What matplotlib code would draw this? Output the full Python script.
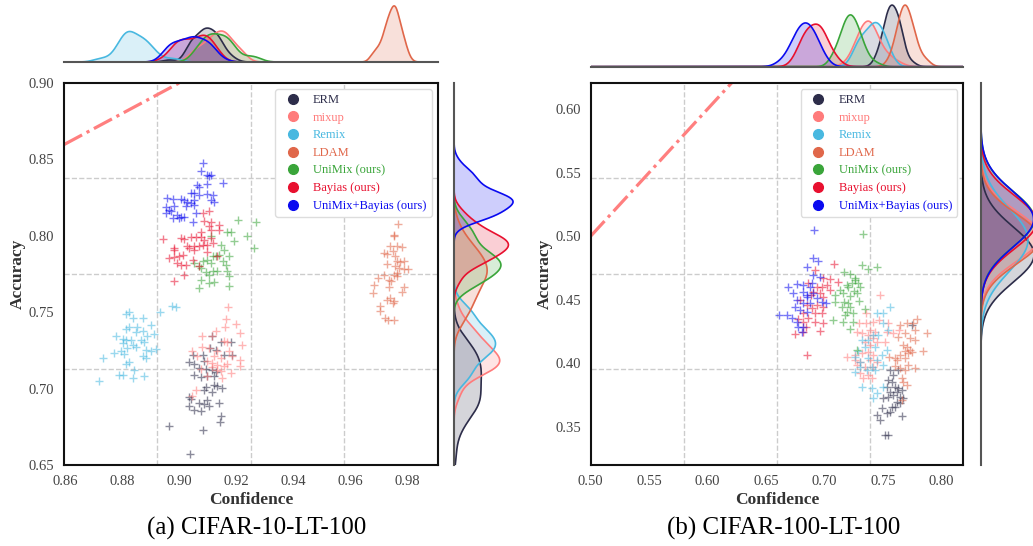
import numpy as np
import matplotlib.pyplot as plt
from matplotlib.ticker import FixedLocator, FormatStrFormatter
from matplotlib.lines import Line2D

plt.rcParams['font.family'] = ['Liberation Serif', 'DejaVu Serif']

methods = ['ERM', 'mixup', 'Remix', 'LDAM', 'UniMix (ours)', 'Bayias (ours)', 'UniMix+Bayias (ours)']
colors = ['#2d2d4a', '#ff7b7b', '#48b8e0', '#e0674a', '#3aa53a', '#e8102f', '#0a0af0']

# ---- (a) CIFAR-10-LT-100 : confidence / accuracy per run ----
erm_a_conf = [0.9116, 0.9145, 0.9180, 0.9108, 0.9128, 0.9050, 0.9085, 0.9157, 0.9186, 0.9035,
              0.9052, 0.9087, 0.9070, 0.9093, 0.9116, 0.9128, 0.9052, 0.9076, 0.9099, 0.9122,
              0.9093, 0.9122, 0.9134, 0.9151, 0.9087, 0.9116, 0.9035, 0.9041, 0.9070, 0.9087,
              0.9105, 0.9140, 0.9035, 0.9052, 0.9076, 0.9145, 0.9143, 0.8965, 0.9085, 0.9038, 0.9099]
erm_a_acc = [0.7342, 0.7303, 0.7303, 0.7266, 0.7255, 0.7222, 0.7222, 0.7222, 0.7222, 0.7172,
             0.7163, 0.7179, 0.7135, 0.7128, 0.7120, 0.7107, 0.7091, 0.7076, 0.7081, 0.7085,
             0.7011, 0.7026, 0.7020, 0.7004, 0.6993, 0.6976, 0.6945, 0.6932, 0.6906, 0.6902,
             0.6889, 0.6906, 0.6884, 0.6858, 0.6852, 0.6823, 0.6780, 0.6754, 0.6732, 0.6575, 0.6928]

mixup_a_conf = [0.9171, 0.9163, 0.9201, 0.9159, 0.9128, 0.9215, 0.9081, 0.9116, 0.9157, 0.9169,
                0.9221, 0.9081, 0.9105, 0.9134, 0.9175, 0.9046, 0.9064, 0.9122, 0.9145, 0.9186,
                0.9215, 0.9099, 0.9116, 0.9134, 0.9157, 0.9215, 0.9134, 0.9145, 0.9116, 0.9180,
                0.9151, 0.9099, 0.9058, 0.9046, 0.9076, 0.9169]
mixup_a_acc = [0.7534, 0.7455, 0.7425, 0.7403, 0.7375, 0.7364, 0.7346, 0.7342, 0.7309, 0.7303,
               0.7288, 0.7272, 0.7266, 0.7244, 0.7244, 0.7244, 0.7216, 0.7211, 0.7200, 0.7211,
               0.7189, 0.7179, 0.7168, 0.7157, 0.7150, 0.7146, 0.7124, 0.7113, 0.7142, 0.7102,
               0.7070, 0.7085, 0.6993, 0.6954, 0.7128, 0.7163]

remix_a_conf = [0.8976, 0.8988, 0.8933, 0.8813, 0.8825, 0.8837, 0.8875, 0.8901, 0.8813, 0.8825,
                0.8854, 0.8848, 0.8872, 0.8889, 0.8912, 0.8778, 0.8802, 0.8813, 0.8831, 0.8866,
                0.8802, 0.8837, 0.8877, 0.8819, 0.8848, 0.8883, 0.8901, 0.8918, 0.8772, 0.8796,
                0.8807, 0.8872, 0.8883, 0.8732, 0.8813, 0.8825, 0.8842, 0.8790, 0.8802, 0.8837,
                0.8877, 0.8720]
remix_a_acc = [0.7542, 0.7534, 0.7499, 0.7490, 0.7499, 0.7462, 0.7462, 0.7418, 0.7390, 0.7403,
               0.7403, 0.7368, 0.7375, 0.7346, 0.7359, 0.7346, 0.7325, 0.7316, 0.7320, 0.7316,
               0.7298, 0.7288, 0.7303, 0.7266, 0.7272, 0.7255, 0.7244, 0.7259, 0.7233, 0.7244,
               0.7229, 0.7211, 0.7200, 0.7200, 0.7163, 0.7172, 0.7124, 0.7091, 0.7091, 0.7070,
               0.7085, 0.7048]

ldam_a_conf = [0.9766, 0.9754, 0.9752, 0.9740, 0.9763, 0.9781, 0.9719, 0.9728, 0.9749, 0.9757,
               0.9728, 0.9763, 0.9775, 0.9787, 0.9757, 0.9769, 0.9787, 0.9801, 0.9763, 0.9752,
               0.9696, 0.9717, 0.9734, 0.9742, 0.9763, 0.9787, 0.9682, 0.9734, 0.9679, 0.9781,
               0.9728, 0.9740, 0.9749, 0.9754, 0.9705, 0.9703, 0.9722, 0.9754, 0.9731]
ldam_a_acc = [0.8078, 0.8007, 0.7996, 0.7935, 0.7930, 0.7926, 0.7887, 0.7882, 0.7898, 0.7869,
              0.7817, 0.7832, 0.7826, 0.7832, 0.7800, 0.7789, 0.7782, 0.7782, 0.7756, 0.7745,
              0.7723, 0.7745, 0.7712, 0.7702, 0.7734, 0.7665, 0.7680, 0.7665, 0.7625, 0.7630,
              0.7582, 0.7593, 0.7560, 0.7571, 0.7538, 0.7506, 0.7462, 0.7447, 0.7451]

unimix_a_conf = [0.9206, 0.9268, 0.9167, 0.9181, 0.9111, 0.9239, 0.9192, 0.9262, 0.9146, 0.9157,
                 0.9117, 0.9128, 0.9140, 0.9175, 0.9099, 0.9152, 0.9082, 0.9070, 0.9111, 0.9076,
                 0.9134, 0.9117, 0.9093, 0.9105, 0.9169, 0.9175, 0.9076, 0.9105, 0.9122, 0.9070,
                 0.9175, 0.9052, 0.9163]
unimix_a_acc = [0.8104, 0.8087, 0.8028, 0.8028, 0.8000, 0.7996, 0.7963, 0.7919, 0.7941, 0.7908,
                0.7869, 0.7865, 0.7876, 0.7865, 0.7843, 0.7832, 0.7832, 0.7799, 0.7821, 0.7789,
                0.7767, 0.7767, 0.7760, 0.7745, 0.7767, 0.7734, 0.7712, 0.7690, 0.7695, 0.7658,
                0.7669, 0.7821, 0.7810]

bayias_a_conf = [0.9082, 0.9105, 0.9087, 0.9111, 0.9140, 0.9105, 0.9076, 0.9111, 0.9140, 0.8942,
                 0.9006, 0.9018, 0.9041, 0.9058, 0.9076, 0.9087, 0.8983, 0.9029, 0.9035, 0.9052,
                 0.9070, 0.9082, 0.9099, 0.9052, 0.9099, 0.8983, 0.8965, 0.8983, 0.9000, 0.9012,
                 0.9047, 0.9134, 0.8994, 0.9006, 0.9023, 0.9070, 0.9018, 0.8983, 0.9111, 0.9117]
bayias_a_acc = [0.8148, 0.8159, 0.8094, 0.8087, 0.8072, 0.8065, 0.8028, 0.8039, 0.8039, 0.7978,
                0.7985, 0.7978, 0.7991, 0.7991, 0.7991, 0.7974, 0.7919, 0.7930, 0.7919, 0.7930,
                0.7930, 0.7941, 0.7941, 0.7908, 0.7897, 0.7908, 0.7854, 0.7860, 0.7869, 0.7876,
                0.7843, 0.7869, 0.7821, 0.7810, 0.7810, 0.7799, 0.7745, 0.7701, 0.7985, 0.7952]

both_a_conf = [0.9085, 0.9076, 0.9099, 0.9111, 0.9105, 0.9062, 0.9070, 0.9099, 0.9152, 0.9041,
               0.9052, 0.9070, 0.9099, 0.9117, 0.8959, 0.8977, 0.9006, 0.9018, 0.9029, 0.9041,
               0.9052, 0.9111, 0.9122, 0.8953, 0.8965, 0.8983, 0.9023, 0.9052, 0.8953, 0.8971,
               0.8994, 0.9006, 0.9018, 0.9058, 0.8977, 0.9047, 0.9000]
both_a_acc = [0.8479, 0.8427, 0.8399, 0.8399, 0.8392, 0.8333, 0.8322, 0.8340, 0.8348, 0.8283,
              0.8279, 0.8268, 0.8274, 0.8268, 0.8246, 0.8240, 0.8240, 0.8235, 0.8224, 0.8213,
              0.8231, 0.8235, 0.8224, 0.8187, 0.8170, 0.8196, 0.8192, 0.8202, 0.8148, 0.8159,
              0.8137, 0.8126, 0.8126, 0.8148, 0.8115, 0.8093, 0.8115]

# ---- (b) CIFAR-100-LT-100 ----
erm_b_conf = [0.7744, 0.7558, 0.7587, 0.7544, 0.7530, 0.7601, 0.7630, 0.7558, 0.7658, 0.7501,
              0.7587, 0.7644, 0.7672, 0.7615, 0.7573, 0.7644, 0.7487, 0.7558, 0.7444, 0.7530,
              0.7473, 0.7658, 0.7516, 0.7544, 0.7601, 0.7630, 0.7573, 0.7615, 0.7544]
erm_b_acc = [0.4302, 0.3948, 0.3909, 0.3870, 0.3817, 0.3817, 0.3804, 0.3778, 0.3791, 0.3725,
             0.3752, 0.3739, 0.3725, 0.3699, 0.3660, 0.3686, 0.3647, 0.3621, 0.3594, 0.3607,
             0.3555, 0.3587, 0.3437, 0.3437, 0.3660, 0.3948, 0.3857, 0.3778, 0.3739]

mixup_b_conf = [0.7473, 0.7353, 0.7416, 0.7467, 0.7296, 0.7353, 0.7387, 0.7430, 0.7530, 0.7274,
                0.7316, 0.7373, 0.7416, 0.7345, 0.7387, 0.7444, 0.7516, 0.7188, 0.7259, 0.7316,
                0.7373, 0.7416, 0.7259, 0.7302, 0.7387, 0.7444, 0.7274, 0.7345, 0.7416, 0.7302,
                0.7373, 0.7331, 0.7402, 0.7544, 0.7587, 0.7638]
mixup_b_acc = [0.4538, 0.4394, 0.4328, 0.4341, 0.4320, 0.4320, 0.4263, 0.4250, 0.4250, 0.4250,
               0.4242, 0.4223, 0.4197, 0.4171, 0.4145, 0.4171, 0.4171, 0.4053, 0.4066, 0.4079,
               0.4092, 0.4066, 0.4027, 0.4014, 0.4027, 0.4014, 0.3988, 0.3974, 0.3974, 0.3922,
               0.3909, 0.3883, 0.3883, 0.4315, 0.4236, 0.4263]

remix_b_conf = [0.7558, 0.7450, 0.7501, 0.7496, 0.7459, 0.7416, 0.7373, 0.7316, 0.7530, 0.7487,
                0.7430, 0.7345, 0.7288, 0.7259, 0.7373, 0.7444, 0.7501, 0.7402, 0.7302, 0.7259,
                0.7430, 0.7359, 0.7316, 0.7402, 0.7501, 0.7444, 0.7416, 0.7544, 0.7302]
remix_b_acc = [0.4441, 0.4394, 0.4394, 0.4315, 0.4223, 0.4223, 0.4184, 0.4184, 0.4105, 0.4066,
               0.4132, 0.4132, 0.4100, 0.4053, 0.4040, 0.4027, 0.3988, 0.3974, 0.3974, 0.3935,
               0.3948, 0.3948, 0.3817, 0.3804, 0.3817, 0.3765, 0.3725, 0.4263, 0.4014]

ldam_b_conf = [0.7644, 0.7701, 0.7758, 0.7786, 0.7872, 0.7772, 0.7687, 0.7630, 0.7729, 0.7672,
               0.7701, 0.7687, 0.7715, 0.7744, 0.7644, 0.7843, 0.7687, 0.7615, 0.7601, 0.7644,
               0.7715, 0.7772, 0.7687, 0.7601, 0.7658, 0.7672, 0.7701, 0.7658, 0.7772, 0.7729, 0.7553]
ldam_b_acc = [0.4302, 0.4315, 0.4315, 0.4347, 0.4242, 0.4263, 0.4236, 0.4210, 0.4197, 0.4145,
              0.4126, 0.4100, 0.4079, 0.4092, 0.4066, 0.4100, 0.4040, 0.4027, 0.3980, 0.3961,
              0.3988, 0.3961, 0.3948, 0.4040, 0.3883, 0.3856, 0.3830, 0.3712, 0.4184, 0.4105, 0.4053]

unimix_b_conf = [0.7316, 0.7444, 0.7373, 0.7165, 0.7217, 0.7259, 0.7231, 0.7288, 0.7302, 0.7202,
                 0.7251, 0.7131, 0.7088, 0.7160, 0.7217, 0.7274, 0.7296, 0.7088, 0.7165, 0.7202,
                 0.7145, 0.7217, 0.7345, 0.7188, 0.7245, 0.7174, 0.7074, 0.7160, 0.7245, 0.7217,
                 0.7274, 0.7188, 0.7259, 0.7330]
unimix_b_acc = [0.4774, 0.4761, 0.4740, 0.4721, 0.4703, 0.4669, 0.4635, 0.4630, 0.4603, 0.4603,
                0.4572, 0.4577, 0.4538, 0.4551, 0.4530, 0.4551, 0.4493, 0.4485, 0.4485, 0.4472,
                0.4446, 0.4446, 0.4425, 0.4407, 0.4394, 0.4381, 0.4341, 0.4328, 0.4328, 0.4268,
                0.4105, 0.4616, 0.4656, 0.5015]

bayias_b_conf = [0.7080, 0.6983, 0.6917, 0.7023, 0.6974, 0.6932, 0.6860, 0.6903, 0.6960, 0.7046,
                 0.6880, 0.6983, 0.6789, 0.6846, 0.6932, 0.6989, 0.6889, 0.6818, 0.6860, 0.6917,
                 0.6974, 0.6775, 0.6818, 0.6840, 0.6917, 0.6983, 0.6960, 0.6746, 0.6818, 0.6846,
                 0.7117, 0.7046]
bayias_b_acc = [0.4782, 0.4669, 0.4734, 0.4616, 0.4598, 0.4603, 0.4630, 0.4564, 0.4551, 0.4577,
                0.4538, 0.4525, 0.4499, 0.4459, 0.4459, 0.4446, 0.4433, 0.4394, 0.4354, 0.4394,
                0.4399, 0.4346, 0.4328, 0.4289, 0.4328, 0.4320, 0.4257, 0.4231, 0.4250, 0.4066,
                0.4643, 0.4661]

both_b_conf = [0.6946, 0.6846, 0.6903, 0.6960, 0.6761, 0.6818, 0.6875, 0.6690, 0.6903, 0.6818,
               0.6732, 0.6846, 0.6932, 0.6761, 0.6818, 0.6875, 0.6974, 0.7011, 0.6746, 0.6789,
               0.6846, 0.6675, 0.6613, 0.6718, 0.6761, 0.6818, 0.6775, 0.6803, 0.6846, 0.6889,
               0.6909, 0.6903]
both_b_acc = [0.4808, 0.4755, 0.4695, 0.4682, 0.4624, 0.4616, 0.4603, 0.4603, 0.4551, 0.4564,
              0.4551, 0.4525, 0.4512, 0.4499, 0.4472, 0.4472, 0.4485, 0.4472, 0.4446, 0.4420,
              0.4407, 0.4381, 0.4381, 0.4354, 0.4328, 0.4289, 0.4289, 0.4250, 0.4538, 0.4635,
              0.5049, 0.4831]

panel_a_conf = [erm_a_conf, mixup_a_conf, remix_a_conf, ldam_a_conf, unimix_a_conf, bayias_a_conf, both_a_conf]
panel_a_acc = [erm_a_acc, mixup_a_acc, remix_a_acc, ldam_a_acc, unimix_a_acc, bayias_a_acc, both_a_acc]
panel_b_conf = [erm_b_conf, mixup_b_conf, remix_b_conf, ldam_b_conf, unimix_b_conf, bayias_b_conf, both_b_conf]
panel_b_acc = [erm_b_acc, mixup_b_acc, remix_b_acc, ldam_b_acc, unimix_b_acc, bayias_b_acc, both_b_acc]


def kde(v, grid, adjust=1.0):
    v = np.asarray(v)
    bw = np.std(v, ddof=1) * len(v) ** (-0.2) * adjust
    d = (grid[:, None] - v[None, :]) / bw
    return np.exp(-0.5 * d ** 2).sum(axis=1) / (len(v) * bw * np.sqrt(2 * np.pi))


def draw_panel(fig, rect, top_rect, right_rect, confs, accs, xlim, ylim, xticks, yticks,
               caption, top_adjust=1.0, right_ylim=None, right_adjust=1.0):
    ax = fig.add_axes(rect)
    for conf, acc, c in zip(confs, accs, colors):
        ax.scatter(conf, acc, marker='+', s=30, color=c, alpha=0.55, linewidths=1.0, zorder=3)
    # perfect calibration line
    ax.plot(xlim, xlim, ls='-.', color='#ff7f7f', lw=2.3, zorder=2)
    ax.set_xlim(xlim)
    ax.set_ylim(ylim)
    ax.set_xticks(xticks)
    ax.set_yticks(yticks)
    ax.xaxis.set_major_formatter(FormatStrFormatter('%.2f'))
    ax.yaxis.set_major_formatter(FormatStrFormatter('%.2f'))
    # grid at quarters of the frame
    ax.xaxis.set_minor_locator(FixedLocator(np.linspace(*xlim, 5)[1:-1]))
    ax.yaxis.set_minor_locator(FixedLocator(np.linspace(*ylim, 5)[1:-1]))
    ax.grid(True, which='minor', ls='--', color='#cccccc', lw=1.0, zorder=0)
    ax.tick_params(which='both', length=0, labelsize=10.5, labelcolor='#444444')
    ax.tick_params(axis='x', pad=7)
    ax.tick_params(axis='y', pad=7)
    for s in ax.spines.values():
        s.set_color('#111111')
        s.set_linewidth(1.5)
    ax.set_xlabel('Confidence', fontsize=12.5, fontweight='bold', color='#333333', labelpad=3)
    ax.set_ylabel('Accuracy', fontsize=12.5, fontweight='bold', color='#333333', labelpad=2)

    handles = [Line2D([], [], marker='o', ls='', color=c, markersize=7) for c in colors]
    leg = ax.legend(handles, methods, loc='upper right', fontsize=9, frameon=True,
                    edgecolor='#dddddd', framealpha=1, labelspacing=0.45, handletextpad=0.65,
                    borderaxespad=0.5)
    for t, c in zip(leg.get_texts(), colors):
        t.set_color(c)

    # top marginal
    axt = fig.add_axes(top_rect)
    gx = np.linspace(xlim[0], xlim[1], 600)
    peak = 0
    for conf, c in zip(confs, colors):
        d = kde(conf, gx, top_adjust)
        axt.fill_between(gx, d, color=c, alpha=0.2, lw=0)
        axt.plot(gx, d, color=c, lw=1.2)
        peak = max(peak, d.max())
    axt.set_xlim(xlim)
    axt.set_ylim(0, peak * 1.05)

    # right marginal
    axr = fig.add_axes(right_rect)
    rlim = right_ylim if right_ylim is not None else ylim
    gy = np.linspace(rlim[0], rlim[1], 600)
    peak = 0
    for acc, c in zip(accs, colors):
        d = kde(acc, gy, right_adjust)
        axr.fill_betweenx(gy, d, color=c, alpha=0.2, lw=0)
        axr.plot(d, gy, color=c, lw=1.2)
        peak = max(peak, d.max())
    axr.set_ylim(rlim)
    axr.set_xlim(0, peak * 1.05)

    for a, keep in ((axt, 'bottom'), (axr, 'left')):
        a.set_xticks([])
        a.set_yticks([])
        a.patch.set_alpha(0)
        for name, s in a.spines.items():
            s.set_visible(name == keep)
            s.set_color('#555555')
            s.set_linewidth(1.5)

    fig.text(rect[0] + rect[2] / 2 + 0.006, 0.032, caption, ha='center', va='center', fontsize=18)


fig = plt.figure(figsize=(10.33, 5.46), dpi=100)

draw_panel(fig, [0.0620, 0.1484, 0.3618, 0.6996], [0.0620, 0.8864, 0.3618, 0.108],
           [0.4395, 0.1484, 0.060, 0.6996], panel_a_conf, panel_a_acc,
           (0.8597, 0.9906), (0.65, 0.90),
           [0.86, 0.88, 0.90, 0.92, 0.94, 0.96, 0.98], [0.65, 0.70, 0.75, 0.80, 0.85, 0.90],
           '(a) CIFAR-10-LT-100')

draw_panel(fig, [0.5718, 0.1484, 0.3607, 0.6996], [0.5718, 0.8778, 0.3607, 0.1185],
           [0.9494, 0.1484, 0.060, 0.6996], panel_b_conf, panel_b_acc,
           (0.50, 0.8185), (0.3201, 0.6204),
           [0.50, 0.55, 0.60, 0.65, 0.70, 0.75, 0.80], [0.35, 0.40, 0.45, 0.50, 0.55, 0.60],
           '(b) CIFAR-100-LT-100', top_adjust=1.25, right_ylim=(-0.10, 0.76), right_adjust=7.0)

fig.savefig('out.png', dpi=100)
